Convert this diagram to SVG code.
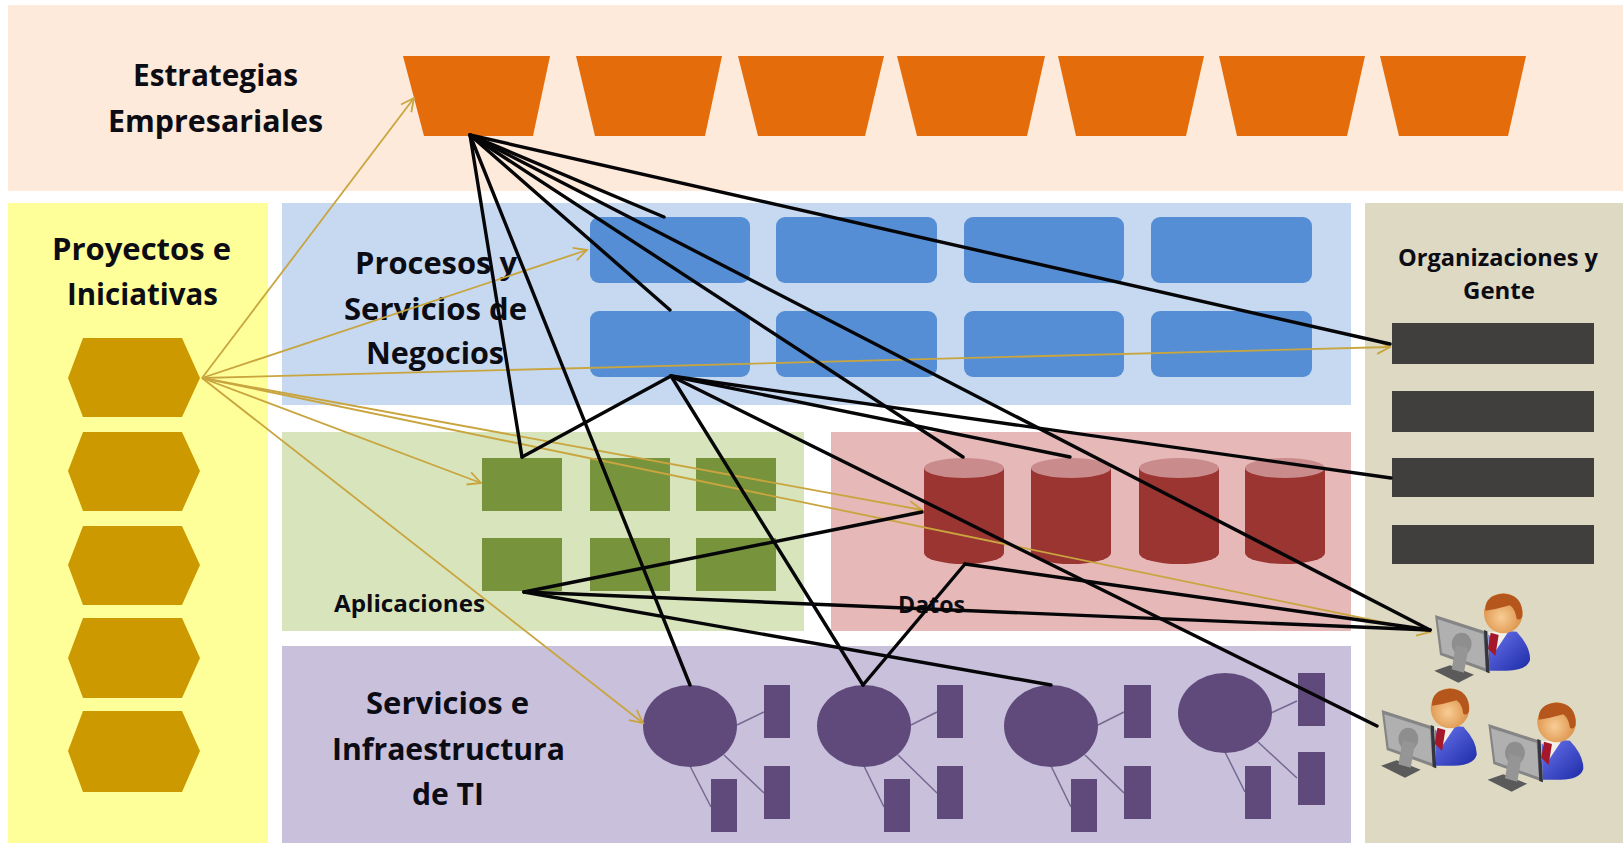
<svg xmlns="http://www.w3.org/2000/svg" xmlns:xlink="http://www.w3.org/1999/xlink" width="1623" height="843" viewBox="0 0 1623 843">
<style>
text{font-family:"Open Sans","Liberation Sans",sans-serif;font-weight:700;fill:#0c0c14}
.big{font-size:31px}
.small{font-size:23px}
.trap{fill:#e46c0a}
.hex{fill:#cc9900}
.proc{fill:#558ed5}
.app{fill:#77933c}
.cyl{fill:#9a3532}
.cyltop{fill:#c98b8b}
.bar{fill:#403f3d}
.inf{fill:#604a7b}
.thin{stroke:#76688f;stroke-width:1.5;fill:none}
.blk{stroke:#060608;stroke-width:3.4;fill:none;stroke-linecap:round}
.gold{stroke:#c9a53f;stroke-width:1.8;fill:none;marker-end:url(#arr)}
</style>
<defs>
<marker id="arr" markerUnits="userSpaceOnUse" markerWidth="18" markerHeight="18" refX="16" refY="9" orient="auto"><path d="M3,2.5 L16,9 L3,15.5" fill="none" stroke="#c9a53f" stroke-width="1.8"/></marker>
<linearGradient id="gBody" x1="0" y1="0" x2="1" y2="1"><stop offset="0" stop-color="#6a74ee"/><stop offset="1" stop-color="#1d2ba6"/></linearGradient>
<radialGradient id="gHead" cx="0.45" cy="0.6" r="0.6"><stop offset="0" stop-color="#f8cd96"/><stop offset="1" stop-color="#d98a3e"/></radialGradient>
<g id="user" transform="translate(1340 580) scale(0.3333)">
<polygon points="283,272 330,256 402,284 355,308" fill="#5a5a5a"/>
<path d="M445,165 Q490,150 530,155 Q572,200 570,240 Q560,272 500,272 L448,272 Z" fill="url(#gBody)"/>
<polygon points="445,155 505,155 465,215" fill="#f2efe8"/>
<polygon points="452,158 476,165 466,228 444,206" fill="#a5182a"/>
<ellipse cx="490" cy="100" rx="58" ry="60" fill="url(#gHead)"/>
<path d="M436,92 Q434,44 490,41 Q550,44 547,108 Q541,124 530,116 Q526,88 510,76 Q470,88 436,92 Z" fill="#b5561c"/>
<polygon points="285,105 440,155 447,278 300,225" fill="#858585"/>
<polygon points="293,118 430,162 437,265 306,218" fill="#b0b0b0"/>
<ellipse cx="365" cy="192" rx="30" ry="34" fill="#8e8e8e"/>
<polygon points="348,195 385,205 372,278 335,268" fill="#959595"/>
<polygon points="432,150 442,154 449,280 438,276" fill="#33363f"/>
</g>
</defs>
<rect width="1623" height="843" fill="#ffffff"/>
<g id="panels">
<rect x="8" y="5" width="1615" height="186" fill="#fdeada"/>
<rect x="8" y="203" width="260" height="640" fill="#ffff99"/>
<rect x="282" y="203" width="1069" height="202" fill="#c6d9f1"/>
<rect x="282" y="432" width="522" height="199" fill="#d8e4bc"/>
<rect x="831" y="432" width="520" height="199" fill="#e6b9b8"/>
<rect x="282" y="646" width="1069" height="197" fill="#c9c0dc"/>
<rect x="1365" y="203" width="258" height="640" fill="#ddd9c3"/>
</g>
<g id="labels">
<text class="big" x="133" y="86" textLength="165" lengthAdjust="spacingAndGlyphs">Estrategias</text>
<text class="big" x="108" y="132" textLength="215" lengthAdjust="spacingAndGlyphs">Empresariales</text>
<text class="big" x="52" y="260" textLength="179" lengthAdjust="spacingAndGlyphs">Proyectos e</text>
<text class="big" x="67" y="305" textLength="151" lengthAdjust="spacingAndGlyphs">Iniciativas</text>
<text class="big" x="355" y="274" textLength="162" lengthAdjust="spacingAndGlyphs">Procesos y</text>
<text class="big" x="344" y="320" textLength="183" lengthAdjust="spacingAndGlyphs">Servicios de</text>
<text class="big" x="366" y="364" textLength="138" lengthAdjust="spacingAndGlyphs">Negocios</text>
<text class="small" x="334" y="612" textLength="151" lengthAdjust="spacingAndGlyphs">Aplicaciones</text>
<text class="small" x="898" y="613" textLength="67" lengthAdjust="spacingAndGlyphs">Datos</text>
<text class="big" x="366" y="714" textLength="163" lengthAdjust="spacingAndGlyphs">Servicios e</text>
<text class="big" x="332" y="760" textLength="233" lengthAdjust="spacingAndGlyphs">Infraestructura</text>
<text class="big" x="412" y="805" textLength="72" lengthAdjust="spacingAndGlyphs">de TI</text>
<text class="small" x="1398" y="266" textLength="200" lengthAdjust="spacingAndGlyphs">Organizaciones y</text>
<text class="small" x="1463" y="299" textLength="72" lengthAdjust="spacingAndGlyphs">Gente</text>
</g>
<g id="estrategias">
<polygon id="e1" class="trap" points="403,56 550,56 533,136 424,136"/>
<polygon id="e2" class="trap" points="576,56 722,56 705,136 595,136"/>
<polygon id="e3" class="trap" points="738,56 884,56 865,136 758,136"/>
<polygon id="e4" class="trap" points="897,56 1045,56 1027,136 917,136"/>
<polygon id="e5" class="trap" points="1058,56 1204,56 1186,136 1076,136"/>
<polygon id="e6" class="trap" points="1219,56 1365,56 1347,136 1237,136"/>
<polygon id="e7" class="trap" points="1380,56 1526,56 1508,136 1399,136"/>
</g>
<g id="proyectos">
<polygon id="h1" class="hex" points="83,338 182,338 200,378 182,417 83,417 68,378"/>
<polygon id="h2" class="hex" points="83,432 182,432 200,471 182,511 83,511 68,471"/>
<polygon id="h3" class="hex" points="83,526 182,526 200,565 182,605 83,605 68,565"/>
<polygon id="h4" class="hex" points="83,618 182,618 200,658 182,698 83,698 68,658"/>
<polygon id="h5" class="hex" points="83,711 182,711 200,751 182,792 83,792 68,751"/>
</g>
<g id="procesos">
<rect id="p1" class="proc" x="590" y="217" width="160" height="66" rx="9"/>
<rect id="p2" class="proc" x="776" y="217" width="161" height="66" rx="9"/>
<rect id="p3" class="proc" x="964" y="217" width="160" height="66" rx="9"/>
<rect id="p4" class="proc" x="1151" y="217" width="161" height="66" rx="9"/>
<rect id="p5" class="proc" x="590" y="311" width="160" height="66" rx="9"/>
<rect id="p6" class="proc" x="776" y="311" width="161" height="66" rx="9"/>
<rect id="p7" class="proc" x="964" y="311" width="160" height="66" rx="9"/>
<rect id="p8" class="proc" x="1151" y="311" width="161" height="66" rx="9"/>
</g>
<g id="aplicaciones">
<rect id="a1" class="app" x="482" y="458" width="80" height="53"/>
<rect id="a2" class="app" x="590" y="458" width="80" height="53"/>
<rect id="a3" class="app" x="696" y="458" width="80" height="53"/>
<rect id="a4" class="app" x="482" y="538" width="80" height="53"/>
<rect id="a5" class="app" x="590" y="538" width="80" height="53"/>
<rect id="a6" class="app" x="696" y="538" width="80" height="53"/>
</g>
<g id="datos">
<g id="d1"><path class="cyl" d="M924,468 V553 A40,11 0 0 0 1004,553 V468 Z"/><ellipse class="cyltop" cx="964" cy="468" rx="40" ry="10"/></g>
<g id="d2"><path class="cyl" d="M1031,468 V553 A40,11 0 0 0 1111,553 V468 Z"/><ellipse class="cyltop" cx="1071" cy="468" rx="40" ry="10"/></g>
<g id="d3"><path class="cyl" d="M1139,468 V553 A40,11 0 0 0 1219,553 V468 Z"/><ellipse class="cyltop" cx="1179" cy="468" rx="40" ry="10"/></g>
<g id="d4"><path class="cyl" d="M1245,468 V553 A40,11 0 0 0 1325,553 V468 Z"/><ellipse class="cyltop" cx="1285" cy="468" rx="40" ry="10"/></g>
</g>
<g id="organizaciones">
<rect id="o1" class="bar" x="1392" y="323" width="202" height="41"/>
<rect id="o2" class="bar" x="1392" y="391" width="202" height="41"/>
<rect id="o3" class="bar" x="1392" y="458" width="202" height="39"/>
<rect id="o4" class="bar" x="1392" y="525" width="202" height="39"/>
</g>
<g id="infraestructura">
<g id="i1">
<path class="thin" d="M737,725 L764,712 M724,755 L764,793 M690,766 L711,807"/>
<ellipse class="inf" cx="690" cy="726" rx="47" ry="41"/>
<rect class="inf" x="764" y="685" width="26" height="53"/><rect class="inf" x="764" y="766" width="26" height="53"/><rect class="inf" x="711" y="779" width="26" height="53"/>
</g>
<g id="i2">
<path class="thin" d="M911,725 L937,712 M898,755 L937,793 M864,766 L884,807"/>
<ellipse class="inf" cx="864" cy="726" rx="47" ry="41"/>
<rect class="inf" x="937" y="685" width="26" height="53"/><rect class="inf" x="937" y="766" width="26" height="53"/><rect class="inf" x="884" y="779" width="26" height="53"/>
</g>
<g id="i3">
<path class="thin" d="M1098,725 L1124,712 M1085,755 L1124,793 M1051,766 L1071,807"/>
<ellipse class="inf" cx="1051" cy="726" rx="47" ry="41"/>
<rect class="inf" x="1124" y="685" width="27" height="53"/><rect class="inf" x="1124" y="766" width="27" height="53"/><rect class="inf" x="1071" y="779" width="26" height="53"/>
</g>
<g id="i4">
<path class="thin" d="M1271,713 L1297,701 M1258,742 L1297,778 M1225,752 L1245,792"/>
<ellipse class="inf" cx="1225" cy="713" rx="47" ry="40"/>
<rect class="inf" x="1298" y="673" width="27" height="53"/><rect class="inf" x="1298" y="752" width="27" height="53"/><rect class="inf" x="1245" y="766" width="26" height="53"/>
</g>
</g>
<g id="gente">
<g id="u1"><use xlink:href="#user" href="#user"/></g>
<g id="u2" transform="translate(-53.3 95)"><use xlink:href="#user" href="#user"/></g>
<g id="u3" transform="translate(53.3 109)"><use xlink:href="#user" href="#user"/></g>
</g>
<g id="connectors">
<line class="gold" x1="202" y1="378" x2="414" y2="98"/>
<line class="gold" x1="202" y1="378" x2="587" y2="250"/>
<line class="gold" x1="202" y1="378" x2="1390" y2="347"/>
<line class="gold" x1="202" y1="378" x2="481" y2="483"/>
<line class="gold" x1="202" y1="378" x2="922" y2="510"/>
<line class="gold" x1="202" y1="378" x2="1430" y2="632"/>
<line class="gold" x1="202" y1="378" x2="643" y2="723"/>
<line class="blk" x1="470" y1="135" x2="1390" y2="344"/>
<line class="blk" x1="470" y1="135" x2="664" y2="217"/>
<line class="blk" x1="470" y1="135" x2="670" y2="310"/>
<line class="blk" x1="470" y1="135" x2="522" y2="457"/>
<line class="blk" x1="470" y1="135" x2="690" y2="685"/>
<line class="blk" x1="470" y1="135" x2="963" y2="457"/>
<line class="blk" x1="470" y1="135" x2="1430" y2="630"/>
<line class="blk" x1="671" y1="376" x2="522" y2="457"/>
<line class="blk" x1="671" y1="376" x2="863" y2="685"/>
<line class="blk" x1="671" y1="376" x2="1070" y2="457"/>
<line class="blk" x1="671" y1="376" x2="1391" y2="478"/>
<line class="blk" x1="671" y1="376" x2="1377" y2="726"/>
<line class="blk" x1="524" y1="592" x2="922" y2="512"/>
<line class="blk" x1="524" y1="592" x2="1430" y2="630"/>
<line class="blk" x1="524" y1="592" x2="1051" y2="685"/>
<line class="blk" x1="965" y1="564" x2="1430" y2="630"/>
<line class="blk" x1="965" y1="564" x2="863" y2="685"/>
</g>
</svg>
